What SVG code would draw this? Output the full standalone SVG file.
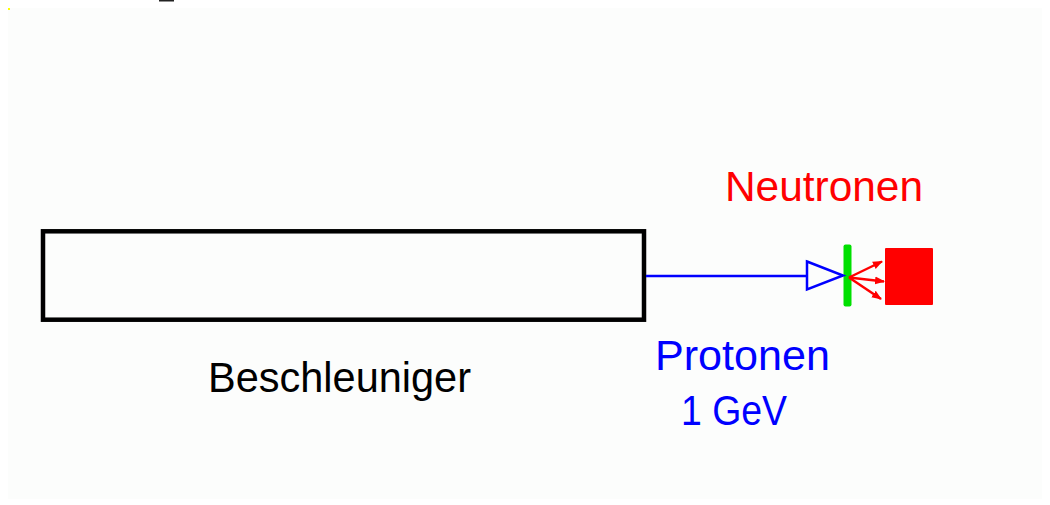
<svg xmlns="http://www.w3.org/2000/svg" width="1050" height="505" viewBox="0 0 1050 505">
<style>
.t{font-family:"Liberation Sans",Arial,sans-serif;font-size:42px}
</style>
<defs>
<marker id="ra" markerWidth="10" markerHeight="10" refX="9" refY="5" orient="auto" markerUnits="userSpaceOnUse"><path d="M0,1 L10,5 L0,9 Z" fill="#ff0000"/></marker>
</defs>
<rect width="1050" height="505" fill="#ffffff"/>
<rect x="8" y="8" width="1034" height="491" fill="#fcfdfc"/>
<rect x="8" y="8" width="2" height="2" fill="#ffff00"/>
<rect x="159" y="0" width="15" height="1.5" fill="#222"/>
<g id="beschleuniger">
<rect x="43" y="231.3" width="601" height="88.4" fill="none" stroke="#000" stroke-width="4.5"/>
<text class="t" x="208" y="392" textLength="263" lengthAdjust="spacingAndGlyphs" fill="#000">Beschleuniger</text>
</g>
<g id="target">
<rect x="843.5" y="244.5" width="8" height="62" rx="2" fill="#00e000"/>
</g>
<g id="detektor">
<rect x="885" y="248" width="48" height="57" rx="1" fill="#ff0000"/>
<text class="t" x="725" y="201" textLength="198" lengthAdjust="spacingAndGlyphs" fill="#ff0000">Neutronen</text>
</g>
<g id="protonen-label">
<text class="t" x="655" y="370" textLength="175" lengthAdjust="spacingAndGlyphs" fill="#0000ff">Protonen</text>
<text class="t" x="681" y="425" textLength="106" lengthAdjust="spacingAndGlyphs" fill="#0000ff">1 GeV</text>
</g>
<g id="connectors">
<line x1="646" y1="276" x2="807" y2="276" stroke="#0000ff" stroke-width="2.5"/>
<path d="M807,261.5 L843,275.5 L807,289.5 Z" fill="none" stroke="#0000ff" stroke-width="2.5" stroke-linejoin="miter"/>
<g stroke="#ff0000" stroke-width="2.5" fill="none">
<line x1="849" y1="277.5" x2="882" y2="261.5" marker-end="url(#ra)"/>
<line x1="849" y1="277.5" x2="884" y2="281.5" marker-end="url(#ra)"/>
<line x1="849" y1="277.5" x2="881" y2="299" marker-end="url(#ra)"/>
</g>
</g>
</svg>
